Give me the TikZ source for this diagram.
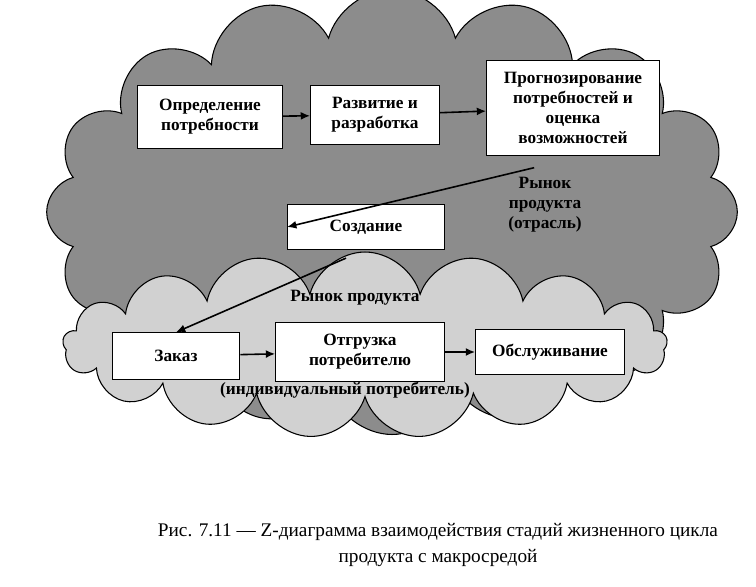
\documentclass[tikz,border=0pt]{standalone}
\usepackage{fontspec}
\setmainfont{Liberation Serif}
\usetikzlibrary{arrows.meta,shapes.symbols}
\tikzset{>=latex}
\tikzset{
  stage/.style={draw, thick, fill=white, font=\fontsize{13}{15}\selectfont\bfseries, align=center, inner sep=2pt},
  flow/.style={very thick, ->, >={Latex[length=7pt,width=6pt]}},
  market/.style={font=\fontsize{13}{15}\selectfont\bfseries, align=center},
  puffy/.style={cloud, cloud ignores aspect, draw, thick}
}
\begin{document}
\begin{tikzpicture}[x=0.02646cm, y=-0.02646cm]
    \useasboundingbox[fill=white] (0,0) rectangle (756,586);
    \node[puffy, cloud puffs=16, fill=black!45, minimum width=520pt, minimum height=335pt] (upper) at (392,212) {};
    \node[puffy, cloud puffs=17, fill=black!18, minimum width=455pt, minimum height=140pt] (lower) at (365,345) {};

    \node[stage, minimum width=109pt, minimum height=48pt] (need) at (210,117) {Определение\\потребности};
    \node[stage, minimum width=97pt, minimum height=45pt] (dev) at (375,115) {Развитие и\\разработка};
    \node[stage, minimum width=130pt, minimum height=71pt] (fore) at (573,108) {Прогнозирование\\потребностей и\\оценка\\возможностей};
    \node[stage, minimum width=118pt, minimum height=34pt] (make) at (366,227) {Создание};
    \node[stage, minimum width=96pt, minimum height=35pt] (order) at (176,356) {Заказ};
    \node[stage, minimum width=127pt, minimum height=45pt] (ship) at (360,352) {Отгрузка\\потребителю};
    \node[stage, minimum width=112pt, minimum height=34pt] (serv) at (550,352) {Обслуживание};

    \node[market] (mkt1) at (545,205) {Рынок\\продукта\\(отрасль)};
    \node[market] (mkt2) at (355,298) {Рынок продукта};
    \node[market] (mkt3) at (345,390) {(индивидуальный потребитель)};

    \draw[flow] (need) -- (dev);
    \draw[flow] (dev) -- (fore);
    \draw[flow] (fore.south west) ++(48,12) coordinate (f1) (f1) -- (make.west);
    \draw[flow] (make.south) ++(-20,8) coordinate (m1) (m1) -- (order.north);
    \draw[flow] (order) -- (ship);
    \draw[flow] (ship) -- (serv);

    \node[align=center, font=\fontsize{14.5}{19}\selectfont] (cap) at (438,545) {Рис. 7.11 --- Z-диаграмма взаимодействия стадий жизненного цикла\\продукта с макросредой};
\end{tikzpicture}
\end{document}
